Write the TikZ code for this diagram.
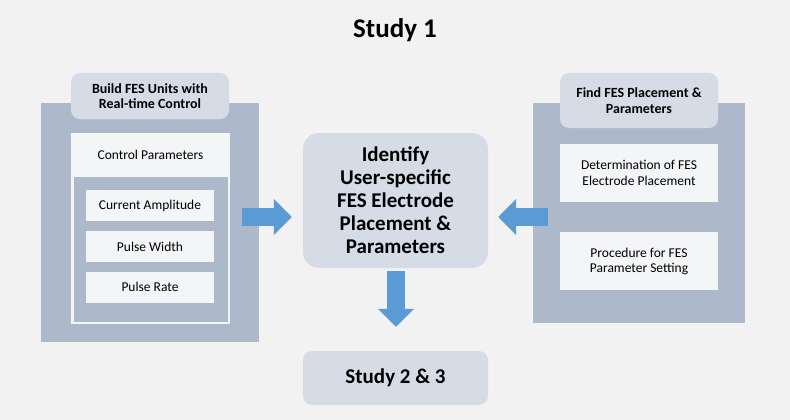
\documentclass[tikz,border=0pt]{standalone}
\usepackage{fontspec}
\setmainfont{Carlito}
\usepackage{tikz}
\usetikzlibrary{arrows.meta,positioning,calc}

\definecolor{bgGray}{HTML}{F2F2F2}
\definecolor{panelBlue}{HTML}{ADB9CA}
\definecolor{headBlue}{HTML}{D6DCE5}
\definecolor{boxWhite}{HTML}{F4F5F7}
\definecolor{arrowBlue}{HTML}{5B9BD5}

\begin{document}
\begin{tikzpicture}[x=1pt,y=-1pt,
    panel/.style={rectangle,fill=panelBlue,inner sep=0pt},
    headbox/.style={rectangle,rounded corners=9pt,fill=headBlue,inner sep=0pt,align=center,
        minimum width=158pt,font=\fontsize{14}{15.5}\selectfont\bfseries},
    itembox/.style={rectangle,fill=boxWhite,inner sep=0pt,align=center,
        font=\fontsize{13.5}{15.5}\selectfont},
    bigarrow/.style={line width=18pt,arrowBlue,-{Triangle[length=18pt,width=35pt]}}]
% Background
\path[use as bounding box,fill=bgGray] (0,0) rectangle (790,420);
\node[font=\fontsize{27}{30}\selectfont\bfseries] (title) at (395,30) {Study 1};

% Left panel: FES units
\node[panel,minimum width=218pt,minimum height=239pt] (leftpanel) at (150,222.5) {};
\node[headbox,minimum height=46pt] (lefthead) at (150,96) {Build FES Units with\\Real-time Control};
\node[itembox,minimum width=159pt,minimum height=191pt] (ctrl) at (150.5,228.5) {};
\node[itembox] (ctrltext) at ($(ctrl.north)+(0,22)$) {Control Parameters};
\node[panel,minimum width=154pt,minimum height=145pt] (ctrlin) at (151,249.5) {};
\node[itembox,minimum width=128pt,minimum height=31pt] (amp) at (150,205.5) {Current Amplitude};
\node[itembox,minimum width=128pt,minimum height=31pt,below=9.5pt of amp] (pw) {Pulse Width};
\node[itembox,minimum width=128pt,minimum height=31pt,below=9.5pt of pw] (pr) {Pulse Rate};

% Right panel: placement & parameters
\node[panel,minimum width=212pt,minimum height=220pt] (rightpanel) at (639,213) {};
\node[headbox,minimum height=55pt] (righthead) at (639,100.5) {Find FES Placement \&\\Parameters};
\node[itembox,minimum width=158pt,minimum height=58pt] (place) at (639,173) {Determination of FES\\Electrode Placement};
\node[itembox,minimum width=158pt,minimum height=58pt,below=30pt of place] (proc) {Procedure for FES\\Parameter Setting};

% Centre
\node[headbox,rounded corners=16pt,minimum width=185pt,minimum height=135pt,
    font=\fontsize{21}{23}\selectfont\bfseries] (ident) at (395.5,200.5)
    {Identify\\User-specific\\FES Electrode\\Placement \&\\Parameters};
\node[headbox,minimum width=185pt,minimum height=54pt,
    font=\fontsize{21}{23}\selectfont\bfseries] (study) at (395.5,378) {Study 2 \& 3};

% Arrows
\draw[bigarrow] ([shift={(-17,-5.5)}]leftpanel.east) -- ([shift={(-11,16.5)}]ident.west);
\draw[bigarrow] ([shift={(15,4)}]rightpanel.west) -- ([shift={(10,16.5)}]ident.east);
\draw[bigarrow] ([shift={(0.5,3)}]ident.south) -- ([shift={(0.5,-24)}]study.north);
\end{tikzpicture}
\end{document}
